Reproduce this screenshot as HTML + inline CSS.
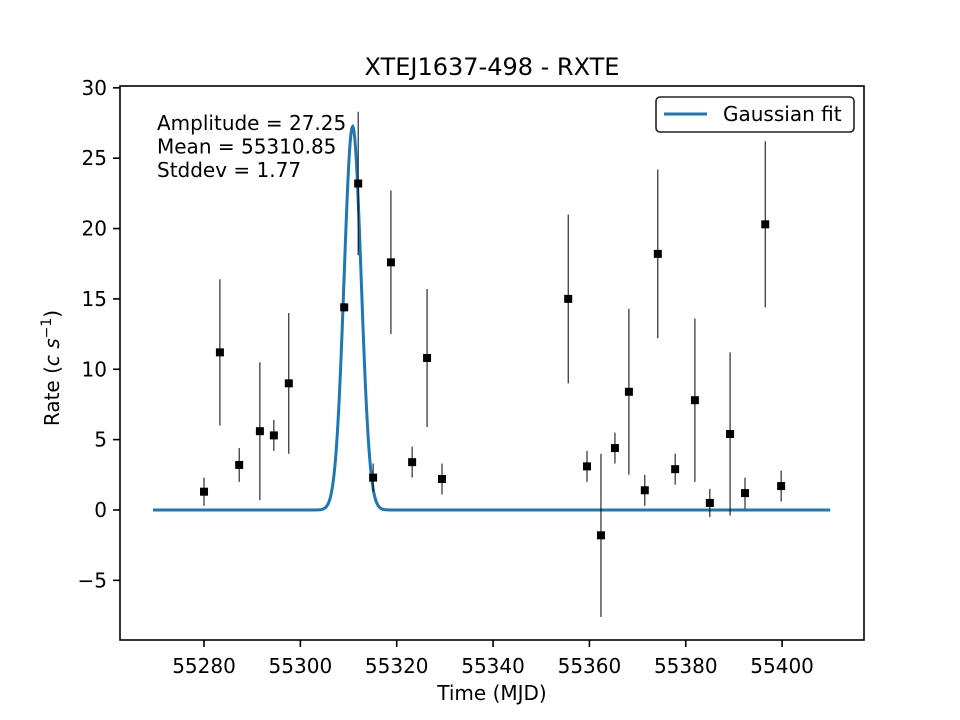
<!DOCTYPE html>
<html><head><meta charset="utf-8"><style>body{margin:0;background:#fff}svg{display:block;font-family:"DejaVu Sans","Liberation Sans",sans-serif}</style></head>
<body>
<svg id="c" width="960" height="720"></svg>
<script>
const mjd=[55280.0,55283.3,55287.3,55291.6,55294.5,55297.6,55309.1,55312.0,55315.1,55318.8,55323.2,55326.3,55329.4,55355.6,55359.5,55362.4,55365.3,55368.2,55371.5,55374.2,55377.8,55381.9,55385.0,55389.2,55392.3,55396.5,55399.8];
const rate=[1.3,11.2,3.2,5.6,5.3,9.0,14.4,23.2,2.3,17.6,3.4,10.8,2.2,15.0,3.1,-1.8,4.4,8.4,1.4,18.2,2.9,7.8,0.5,5.4,1.2,20.3,1.7];
const err=[1.0,5.2,1.2,4.9,1.1,5.0,0.3,5.1,1.0,5.1,1.1,4.9,1.1,6.0,1.1,5.8,1.1,5.9,1.1,6.0,1.1,5.8,1.0,5.8,1.1,5.9,1.1];
const xTicks=[55280,55300,55320,55340,55360,55380,55400];
const yTicks=[-5,0,5,10,15,20,25,30];
const amp=27.25, mean=55310.85, sd=1.77, fitStart=55269.4, fitEnd=55410.0;
const L=120,R=864,T=86,B=640,x0=55262.56,x1=55417.0,y0=-9.24,y1=30.13;
const X=v=>L+(v-x0)/(x1-x0)*(R-L), Y=v=>B-(v-y0)/(y1-y0)*(B-T);
const s=document.getElementById('c'),NS='http://www.w3.org/2000/svg';
function add(tag,at,txt){const e=document.createElementNS(NS,tag);for(const k in at)e.setAttribute(k,at[k]);if(txt!==undefined)e.textContent=txt;s.appendChild(e);return e;}
let e;
xTicks.forEach(t=>{const px=X(t);
 e=add('line',{x1:px,x2:px,y1:B,y2:B+7,stroke:'#000','stroke-width':1.6});
 e=add('text',{x:px,y:B+33,'font-size':20,'text-anchor':'middle'},t);});
yTicks.forEach(t=>{const py=Y(t);
 e=add('line',{x1:L-7,x2:L,y1:py,y2:py,stroke:'#000','stroke-width':1.6});
 e=add('text',{x:L-13,y:py+7,'font-size':20,'text-anchor':'end'},t<0?'\u2212'+(-t):t);});
let d='';for(let i=0;i<=1000;i++){const v=fitStart+(fitEnd-fitStart)*i/1000;const g=amp*Math.exp(-0.5*((v-mean)/sd)**2);d+=(i?'L':'M')+X(v).toFixed(2)+','+Y(g).toFixed(2);}
e=add('path',{d:d,fill:'none',stroke:'#1f77b4','stroke-width':3});
mjd.forEach((m,i)=>{const px=X(m);
 e=add('line',{x1:px,x2:px,y1:Y(rate[i]-err[i]),y2:Y(rate[i]+err[i]),stroke:'#000','stroke-width':1});
 e=add('rect',{x:px-4,y:Y(rate[i])-4,width:8,height:8,fill:'#000'});});
e=add('rect',{x:L,y:T,width:R-L,height:B-T,fill:'none',stroke:'#000','stroke-width':1.6});

e=add('text',{x:492,y:75,'font-size':24,'text-anchor':'middle'},'XTEJ1637-498 - RXTE');
e=add('text',{x:492,y:700,'font-size':20,'text-anchor':'middle'},'Time (MJD)');
e=add('text',{x:0,y:0,'font-size':20,'text-anchor':'middle',transform:'translate(59,368) rotate(-90)'});e.innerHTML='Rate (<tspan font-style="italic">c s</tspan><tspan dy="-8" font-size="14">\u22121</tspan><tspan dy="8">)</tspan>';
['Amplitude = 27.25','Mean = 55310.85','Stddev = 1.77'].forEach((t,i)=>{e=add('text',{x:157,y:130+i*23.5,'font-size':20},t);});
e=add('rect',{x:656,y:97,width:198,height:35,rx:4,fill:'#fff',stroke:'#222','stroke-width':1.6});
e=add('line',{x1:664,x2:707,y1:114,y2:114,stroke:'#1f77b4','stroke-width':3});
e=add('text',{x:723,y:121,'font-size':20},'Gaussian fit');
</script>
</body></html>
